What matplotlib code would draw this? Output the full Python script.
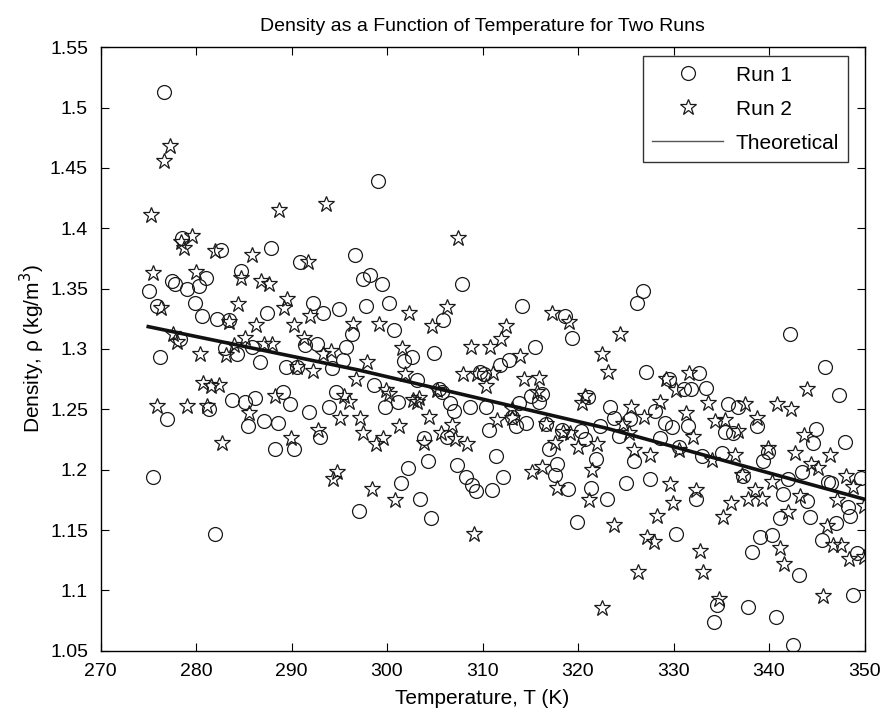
import matplotlib
matplotlib.use("Agg")
import matplotlib.pyplot as plt
from matplotlib.lines import Line2D

plt.rcParams["font.family"] = ["Liberation Sans", "DejaVu Sans"]

# Run 1 (circles)
run1_T = [276.6, 299.1,
          278.55, 282.66, 287.81, 290.9, 296.65, 284.67, 281.02, 277.44, 277.85, 279.1,
          280.29, 275.1, 279.87, 275.87, 292.23, 294.98, 287.46, 293.34, 280.64, 282.24,
          283.42, 296.34, 278.31, 291.46, 292.65, 283.0, 285.86, 295.74, 276.22, 284.33,
          286.73, 295.43, 289.44, 290.6, 294.25,
          281.33, 276.98, 283.77, 285.09, 286.14, 289.1, 289.86, 285.44, 287.08, 288.57,
          291.88, 293.9, 294.66, 292.99, 288.23, 290.25, 275.49, 281.96,
          297.46, 298.22, 299.44, 307.9, 297.8, 300.17, 314.16, 305.91, 300.76, 318.62,
          319.32, 315.45, 304.97, 301.8, 302.57, 311.83, 312.77,
          303.1, 309.7, 310.15, 298.67, 301.11, 299.82, 305.46, 305.74, 306.61, 307.03,
          308.66, 310.33, 313.82, 315.03, 315.9, 316.25, 313.12, 313.47, 314.58, 310.68,
          316.67, 321.05, 322.27, 318.27, 320.26, 320.78, 316.95, 321.89, 317.82, 317.54,
          318.97, 321.4, 319.91, 306.23, 303.9, 311.45, 304.24, 302.22, 307.38, 308.25,
          308.94, 309.36, 311.03, 312.14, 301.46, 303.48, 297.11, 304.59,
          326.77, 326.18, 342.19, 327.12, 345.84, 329.49, 332.62, 331.05, 331.85, 333.38,
          347.34,
          323.39, 328.09, 335.75, 336.8, 323.74, 325.41, 324.26, 329.14, 329.83, 331.47,
          335.4, 336.27, 338.71, 344.97, 344.63, 347.93, 328.62, 330.6, 325.83, 332.97,
          335.05, 339.93, 339.41, 343.41, 346.19, 346.54, 337.32, 342.02, 341.49, 343.93,
          348.28, 348.53, 344.28, 341.15, 347.06, 345.5, 339.06, 340.28, 332.34, 325.07,
          327.5, 323.05, 330.29,
          338.19, 343.13, 348.8, 334.6, 337.77, 340.73, 334.25, 342.54,
          349.6, 349.2]
run1_rho = [1.513, 1.439,
            1.392, 1.382, 1.384, 1.372, 1.378, 1.365, 1.359, 1.356, 1.354, 1.350,
            1.352, 1.348, 1.338, 1.336, 1.338, 1.333, 1.330, 1.330, 1.327, 1.325,
            1.324, 1.312, 1.308, 1.303, 1.304, 1.301, 1.302, 1.302, 1.293, 1.296,
            1.289, 1.291, 1.285, 1.285, 1.284,
            1.250, 1.242, 1.258, 1.256, 1.259, 1.264, 1.254, 1.236, 1.240, 1.239,
            1.248, 1.252, 1.264, 1.227, 1.217, 1.217, 1.194, 1.147,
            1.358, 1.361, 1.354, 1.354, 1.336, 1.338, 1.336, 1.324, 1.316, 1.327,
            1.309, 1.302, 1.297, 1.290, 1.293, 1.287, 1.291,
            1.274, 1.281, 1.279, 1.270, 1.256, 1.252, 1.267, 1.264, 1.255, 1.249,
            1.252, 1.252, 1.255, 1.261, 1.256, 1.263, 1.244, 1.236, 1.239, 1.233,
            1.238, 1.260, 1.236, 1.233, 1.232, 1.225, 1.217, 1.209, 1.205, 1.196,
            1.184, 1.185, 1.157, 1.227, 1.226, 1.211, 1.207, 1.201, 1.204, 1.194,
            1.187, 1.182, 1.183, 1.194, 1.189, 1.176, 1.166, 1.160,
            1.348, 1.338, 1.312, 1.281, 1.285, 1.275, 1.280, 1.267, 1.267, 1.268,
            1.262,
            1.252, 1.249, 1.254, 1.252, 1.243, 1.242, 1.228, 1.239, 1.235, 1.236,
            1.231, 1.230, 1.236, 1.234, 1.222, 1.223, 1.226, 1.219, 1.207, 1.211,
            1.214, 1.215, 1.207, 1.198, 1.190, 1.189, 1.195, 1.192, 1.180, 1.174,
            1.169, 1.162, 1.161, 1.160, 1.156, 1.142, 1.144, 1.146, 1.176, 1.189,
            1.192, 1.176, 1.147,
            1.132, 1.113, 1.096, 1.088, 1.086, 1.078, 1.074, 1.055,
            1.193, 1.131]

# Run 2 (stars)
run2_T = [277.26, 276.67, 288.7, 293.6,
          275.24, 279.63, 278.4, 278.7, 281.96, 285.89, 291.7, 275.52, 280.05, 284.74,
          286.76, 287.6, 276.32, 284.4, 289.55, 289.2, 291.95, 283.42, 286.24, 290.3,
          296.4, 277.61, 278.03, 285.09, 291.29, 283.98, 287.11, 287.95, 293.27, 294.14,
          280.39, 283.18, 290.6, 292.3,
          296.75, 280.74, 281.54, 282.38, 275.94, 279.1, 281.16, 288.23, 285.51, 295.47,
          296.06, 295.12, 292.75, 289.97, 282.76, 294.73, 294.39,
          307.48, 302.33, 306.33, 304.7, 299.2, 317.23, 319.04, 312.42, 311.9, 308.77,
          310.75, 301.56, 297.87, 313.92, 322.52,
          301.91, 308.0, 309.46, 311.1, 314.34, 315.9, 299.89, 300.24, 302.68, 303.37,
          303.1, 305.22, 310.4, 315.73, 313.05, 313.12, 311.55, 316.67, 320.78, 320.43,
          318.41, 319.21, 317.57, 320.01, 322.0, 315.14, 316.25, 321.47, 317.82, 321.12,
          297.18, 297.46, 298.85, 299.54, 301.21, 304.35, 306.78, 305.64, 307.13, 308.42,
          303.9, 298.43, 300.83, 309.12,
          324.44, 323.12, 329.24, 331.57, 330.29, 343.93,
          325.55, 328.62, 333.56, 337.49, 340.8, 342.3, 324.72, 326.87, 325.31, 331.33,
          332.03, 334.36, 335.4, 336.8, 338.78, 343.65, 330.6, 325.9, 327.57, 334.01,
          336.45, 339.93, 342.71, 346.37, 344.35, 345.15, 348.04, 348.8, 337.14, 340.28,
          337.84, 338.53, 339.23, 343.23, 347.13, 342.02, 346.02, 346.72, 347.58, 336.03,
          335.16, 332.37, 329.59, 329.94, 328.27, 323.81, 327.22, 327.92,
          332.72, 341.15, 348.39, 326.25, 333.07, 341.56, 345.6, 334.71, 322.52,
          349.9, 349.9]
run2_rho = [1.468, 1.456, 1.415, 1.420,
            1.411, 1.394, 1.389, 1.384, 1.381, 1.378, 1.372, 1.363, 1.364, 1.359,
            1.356, 1.354, 1.334, 1.337, 1.341, 1.334, 1.327, 1.322, 1.320, 1.320,
            1.321, 1.312, 1.306, 1.309, 1.309, 1.303, 1.304, 1.304, 1.296, 1.298,
            1.296, 1.295, 1.285, 1.282,
            1.275, 1.272, 1.269, 1.270, 1.253, 1.253, 1.253, 1.261, 1.247, 1.261,
            1.256, 1.243, 1.233, 1.226, 1.222, 1.198, 1.192,
            1.392, 1.330, 1.335, 1.319, 1.321, 1.330, 1.322, 1.319, 1.308, 1.302,
            1.302, 1.301, 1.289, 1.294, 1.296,
            1.279, 1.279, 1.279, 1.280, 1.275, 1.276, 1.266, 1.263, 1.258, 1.259,
            1.256, 1.266, 1.269, 1.264, 1.250, 1.243, 1.241, 1.238, 1.261, 1.255,
            1.231, 1.230, 1.222, 1.219, 1.221, 1.198, 1.202, 1.200, 1.185, 1.175,
            1.243, 1.230, 1.221, 1.226, 1.236, 1.244, 1.237, 1.230, 1.225, 1.221,
            1.222, 1.184, 1.175, 1.147,
            1.312, 1.281, 1.275, 1.280, 1.266, 1.267,
            1.252, 1.256, 1.255, 1.254, 1.254, 1.250, 1.238, 1.244, 1.230, 1.247,
            1.227, 1.240, 1.241, 1.232, 1.243, 1.229, 1.216, 1.216, 1.212, 1.208,
            1.212, 1.218, 1.214, 1.212, 1.205, 1.201, 1.195, 1.186, 1.196, 1.190,
            1.176, 1.183, 1.176, 1.178, 1.175, 1.165, 1.153, 1.138, 1.138, 1.172,
            1.161, 1.183, 1.188, 1.172, 1.162, 1.154, 1.144, 1.140,
            1.133, 1.135, 1.126, 1.115, 1.115, 1.122, 1.095, 1.093, 1.085,
            1.170, 1.128]

# theoretical curve
theory_T = [275, 297, 323, 350]
theory_rho = [1.3185, 1.2826, 1.2343, 1.1755]

fig = plt.figure(figsize=(8.91, 7.24), dpi=100)
ax = fig.add_axes([0.1128, 0.1012, 0.8575, 0.8336])

ax.plot(run1_T, run1_rho, "o", ms=10, mfc="none", mec="#1a1a1a", mew=0.9, ls="none")
ax.plot(run2_T, run2_rho, "*", ms=12, mfc="none", mec="#1a1a1a", mew=0.9, ls="none")
ax.plot(theory_T, theory_rho, "-", color="#111111", lw=2.6)

ax.set_xlim(270, 350)
ax.set_ylim(1.05, 1.55)
ax.set_xticks(range(270, 351, 10))
ax.set_yticks([1.05 + 0.05 * i for i in range(11)])
ax.set_yticklabels(["1.05", "1.1", "1.15", "1.2", "1.25", "1.3", "1.35",
                    "1.4", "1.45", "1.5", "1.55"])
ax.tick_params(direction="in", top=True, right=True, labelsize=14, length=6,
               width=0.8, pad=9)
for s in ax.spines.values():
    s.set_linewidth(1.0)

ax.set_xlabel("Temperature, T (K)", fontsize=15, labelpad=6)
ax.set_ylabel("Density, \u03c1 (kg/m$^3$)", fontsize=15, labelpad=2)
ax.set_title("Density as a Function of Temperature for Two Runs", fontsize=14, pad=12)

handles = [
    Line2D([], [], marker="o", ls="none", ms=10, mfc="none", mec="#1a1a1a", mew=0.9),
    Line2D([], [], marker="*", ls="none", ms=12, mfc="none", mec="#1a1a1a", mew=0.9),
    Line2D([], [], color="#555555", lw=1.0),
]
leg = ax.legend(handles, ["Run 1", "Run 2", "Theoretical"], loc="upper left",
                bbox_to_anchor=(0.71, 0.985), fontsize=15, frameon=True,
                fancybox=False, edgecolor="black", labelspacing=0.72,
                handlelength=3.4, handletextpad=0.6, borderpad=0.45,
                borderaxespad=0.0)
leg.get_frame().set_linewidth(1.0)

fig.savefig("out.png", dpi=100)
